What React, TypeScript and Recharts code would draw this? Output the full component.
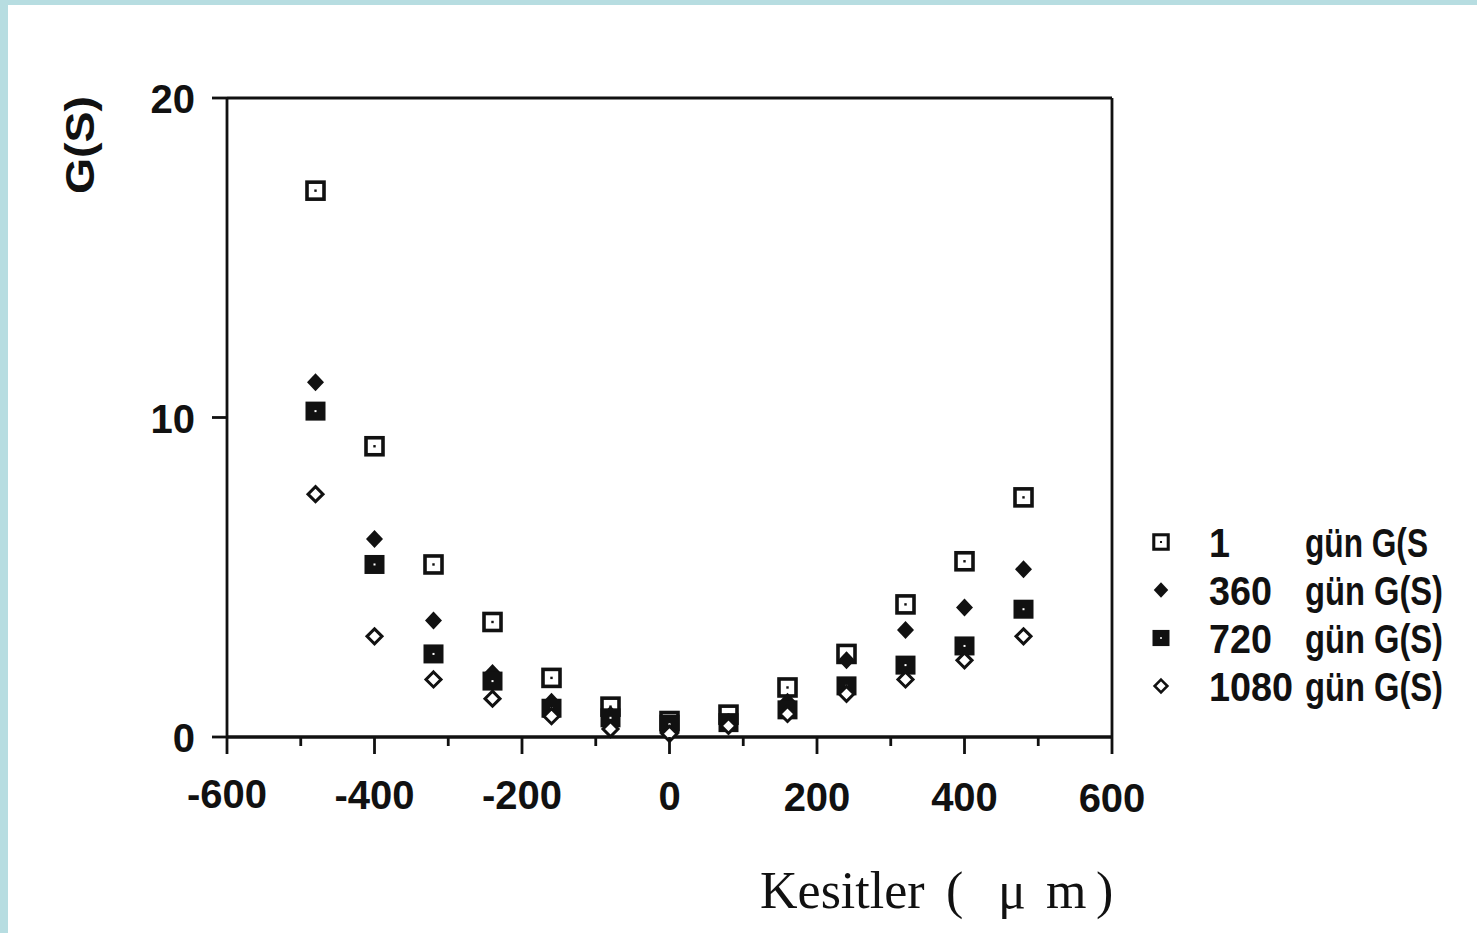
import { ScatterChart, Scatter, XAxis, YAxis, ReferenceLine } from "recharts"

const sections = [-480, -400, -320, -240, -160, -80, 0, 80, 160, 240, 320, 400, 480]
const day1 = [17.1, 9.1, 5.4, 3.6, 1.85, 0.95, 0.5, 0.7, 1.55, 2.6, 4.15, 5.5, 7.5]
const day360 = [11.1, 6.2, 3.65, 2.0, 1.1, 0.7, 0.4, 0.45, 1.1, 2.4, 3.35, 4.05, 5.25]
const day720 = [10.2, 5.4, 2.6, 1.75, 0.9, 0.6, 0.4, 0.45, 0.85, 1.6, 2.25, 2.85, 4.0]
const day1080 = [7.6, 3.15, 1.8, 1.2, 0.65, 0.25, 0.1, 0.35, 0.72, 1.35, 1.8, 2.4, 3.15]

const xTicks = [-600, -500, -400, -300, -200, -100, 0, 100, 200, 300, 400, 500, 600]
const yTicks = [0, 10, 20]
const legendLabels = ["1", "360", "720", "1080"]
const legendSuffix = ["gün G(S", "gün G(S)", "gün G(S)", "gün G(S)"]

const toPoints = (vals: number[]) => sections.map((x, i) => ({ x, y: vals[i] }))

const INK = "#111"
const TICK_FONT = "'Liberation Sans', Arial, sans-serif"

function OpenSquare({ cx, cy }: any) {
  return (
    <g>
      <rect x={cx - 8.5} y={cy - 8.5} width={17} height={17} fill="#fff" stroke={INK} strokeWidth={3.6} />
      <rect x={cx - 1.2} y={cy - 1.2} width={2.4} height={2.4} fill={INK} />
    </g>
  )
}

function FilledSquare({ cx, cy }: any) {
  return (
    <g>
      <rect x={cx - 10} y={cy - 9.5} width={20} height={19} fill={INK} />
      <rect x={cx - 1} y={cy - 1} width={2} height={2} fill="#fff" />
    </g>
  )
}

function FilledDiamond({ cx, cy }: any) {
  return <path d={`M${cx},${cy - 9} L${cx + 8.5},${cy} L${cx},${cy + 9} L${cx - 8.5},${cy} Z`} fill={INK} />
}

function OpenDiamond({ cx, cy }: any) {
  return (
    <path
      d={`M${cx},${cy - 7.5} L${cx + 7.5},${cy} L${cx},${cy + 7.5} L${cx - 7.5},${cy} Z`}
      fill="#fff"
      stroke={INK}
      strokeWidth={3}
    />
  )
}

const shapes = [OpenSquare, FilledDiamond, FilledSquare, OpenDiamond]

function XTick({ x, y, payload }: any) {
  const major = payload.value % 200 === 0
  return (
    <g>
      <line x1={x} y1={y} x2={x} y2={y + (major ? 17 : 9)} stroke={INK} strokeWidth={2.8} />
      {major && (
        <text
          x={x}
          y={y + 71 + (payload.value + 600) / 300}
          textAnchor="middle"
          fontFamily={TICK_FONT}
          fontWeight={700}
          fontSize={40}
          fill={INK}
        >
          {payload.value}
        </text>
      )}
    </g>
  )
}

function YTick({ x, y, payload }: any) {
  return (
    <g>
      <line x1={x - 15} y1={y} x2={x} y2={y} stroke={INK} strokeWidth={2.8} />
      <text
        x={x - 32}
        y={y + 15}
        textAnchor="end"
        fontFamily={TICK_FONT}
        fontWeight={700}
        fontSize={40}
        fill={INK}
      >
        {payload.value}
      </text>
    </g>
  )
}

export default function App() {
  const series = [day1, day360, day720, day1080]
  return (
    <div style={{ position: "absolute", left: 0, top: 0, width: 1477, height: 933, background: "#b7dde1" }}>
      <div style={{ position: "absolute", left: 8, top: 5, right: 0, bottom: 0, background: "#fff" }} />
      <div style={{ position: "absolute", left: 0, top: 0 }}>
        <ScatterChart width={1477} height={933} margin={{ top: 98, right: 365, bottom: 136, left: 167 }}>
          <XAxis
            type="number"
            dataKey="x"
            domain={[-600, 600]}
            ticks={xTicks}
            interval={0}
            height={60}
            tickSize={0}
            tickMargin={0}
            tickLine={false}
            axisLine={{ stroke: INK, strokeWidth: 3.5 }}
            tick={<XTick />}
          />
          <YAxis
            type="number"
            dataKey="y"
            domain={[0, 20]}
            ticks={yTicks}
            interval={0}
            width={60}
            tickSize={0}
            tickMargin={0}
            tickLine={false}
            axisLine={{ stroke: INK, strokeWidth: 2.8 }}
            tick={<YTick />}
          />
          <ReferenceLine y={20} stroke={INK} strokeWidth={2.8} />
          <ReferenceLine x={600} stroke={INK} strokeWidth={2.8} />
          {series.map((vals, i) => (
            <Scatter
              key={legendLabels[i]}
              data={toPoints(vals)}
              shape={shapes[i]}
              isAnimationActive={false}
            />
          ))}
          <text
            x={80}
            y={145}
            transform="rotate(-90 80 145)"
            textAnchor="middle"
            dominantBaseline="central"
            fontFamily={TICK_FONT}
            fontWeight={700}
            fontSize={40}
            textLength={98}
            lengthAdjust="spacingAndGlyphs"
            fill={INK}
          >
            G(S)
          </text>
          <text
            y={908}
            fontFamily="'Liberation Serif', 'Times New Roman', serif"
            fontSize={52}
            fill={INK}
          >
            <tspan x={760}>Kesitler</tspan>
            <tspan x={946}>(</tspan>
            <tspan x={998}>μ</tspan>
            <tspan x={1046}>m</tspan>
            <tspan x={1096}>)</tspan>
          </text>
          {legendLabels.map((label, i) => {
            const Shape = shapes[i]
            const cy = 542 + i * 48
            return (
              <g key={label}>
                <g transform={`translate(1161 ${cy}) scale(0.85) translate(-1161 ${-cy})`}>
                  <Shape cx={1161} cy={cy} />
                </g>
                <text
                  x={1209}
                  y={cy + 15}
                  fontFamily={TICK_FONT}
                  fontWeight={700}
                  fontSize={40}
                  textLength={label.length * 21}
                  lengthAdjust="spacingAndGlyphs"
                  fill={INK}
                >
                  {label}
                </text>
                <text
                  x={1305}
                  y={cy + 15}
                  fontFamily={TICK_FONT}
                  fontWeight={700}
                  fontSize={40}
                  textLength={legendSuffix[i].length === 8 ? 138 : 123}
                  lengthAdjust="spacingAndGlyphs"
                  fill={INK}
                >
                  {legendSuffix[i]}
                </text>
              </g>
            )
          })}
        </ScatterChart>
      </div>
    </div>
  )
}
